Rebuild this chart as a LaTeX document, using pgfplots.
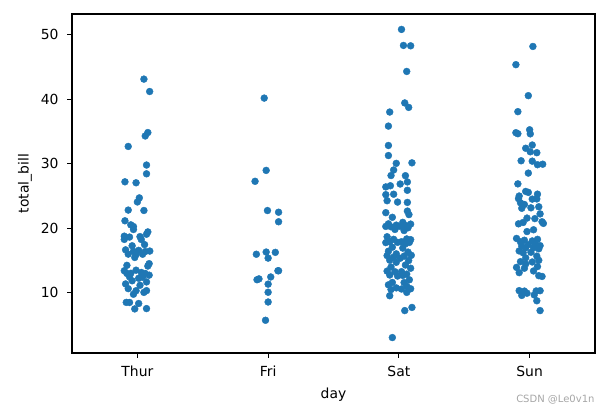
\documentclass[border=0pt]{standalone}
\usepackage{fontspec}
\setmainfont{DejaVu Sans}
\usepackage{pgfplots}
\pgfplotsset{compat=1.18}
\usepackage{pgfplotstable}
\definecolor{tabblue}{HTML}{1F77B4}

% columns: j = jitter offset from the category, bill = total_bill
\pgfplotstableread{
j bill
0.05 43.11
0.094 41.19
0.08 34.83
0.06 34.30
-0.07 32.68
0.07 29.80
0.07 28.44
-0.095 27.20
-0.01 27.05
0.015 24.71
0.0 24.08
-0.07 22.82
0.05 22.76
-0.095 21.16
-0.05 20.53
-0.03 20.27
-0.03 19.81
0.08 19.44
0.07 19.08
-0.10 18.78
0.02 18.71
-0.06 18.64
-0.10 18.28
0.03 18.26
0.055 17.47
-0.04 17.29
-0.09 16.66
0.01 16.58
0.095 16.47
-0.03 16.43
0.06 16.40
-0.07 16.00
0.04 15.98
-0.01 15.95
-0.02 15.48
0.09 14.52
-0.08 14.26
0.08 14.15
-0.01 13.51
-0.10 13.42
0.03 13.16
-0.05 13.03
0.06 13.00
-0.08 13.00
0.09 12.74
-0.06 12.48
0.04 12.43
0.01 12.26
-0.04 11.87
0.07 11.69
-0.09 11.38
0.02 11.17
-0.07 10.65
0.07 10.34
-0.01 10.33
0.05 10.07
-0.03 9.78
-0.085 8.52
-0.06 8.51
0.01 8.35
0.07 7.56
-0.02 7.51
}\thur

\pgfplotstableread{
j bill
-0.03 40.17
-0.015 28.97
-0.10 27.28
-0.005 22.75
0.08 22.49
0.08 21.01
-0.015 16.32
0.055 16.27
-0.09 15.98
0.0 15.38
0.08 13.42
0.075 13.42
0.02 12.46
-0.07 12.16
-0.085 12.03
0.0 11.35
0.0 10.09
0.0 8.58
-0.02 5.75
}\fri

\pgfplotstableread{
j bill
0.02 50.81
0.035 48.33
0.09 48.27
0.06 44.30
0.045 39.42
0.075 38.73
-0.07 38.01
-0.08 35.83
-0.08 32.83
-0.08 31.27
0.10 30.14
-0.02 30.06
-0.04 29.03
-0.06 28.17
0.05 28.15
0.065 27.18
0.01 26.86
-0.065 26.59
-0.10 26.41
0.065 25.89
-0.04 25.28
-0.10 25.21
-0.09 24.27
-0.01 24.06
0.065 24.01
0.065 22.67
-0.10 22.42
0.077 22.12
-0.05 21.70
0.03 20.92
-0.08 20.69
0.09 20.65
-0.02 20.49
0.05 20.45
-0.10 20.29
0.01 20.29
-0.06 20.23
0.07 20.08
-0.03 19.82
0.04 19.65
-0.09 18.69
0.06 18.35
-0.04 18.29
0.09 18.24
-0.07 17.92
0.02 17.92
-0.01 17.82
0.08 17.81
-0.10 17.78
0.05 17.59
-0.05 17.07
0.03 16.93
-0.08 16.45
0.07 16.31
-0.02 16.04
0.095 15.81
-0.09 15.77
0.04 15.69
-0.04 15.53
0.01 15.36
-0.07 15.06
0.075 15.01
-0.02 14.73
0.05 14.31
-0.06 14.00
0.09 13.81
-0.09 13.37
0.02 13.28
-0.03 13.27
0.06 12.90
-0.07 12.76
0.03 12.69
-0.01 12.60
0.08 12.02
-0.05 11.61
0.04 11.59
-0.08 11.24
0.06 11.02
-0.02 10.77
0.09 10.63
0.02 10.59
-0.06 10.51
0.06 10.07
-0.07 9.55
0.10 7.74
0.045 7.25
-0.05 3.07
}\sat

\pgfplotstableread{
j bill
0.025 48.17
-0.105 45.35
-0.01 40.55
-0.09 38.07
0.0 35.26
-0.105 34.81
-0.09 34.65
0.005 34.63
0.02 32.90
-0.03 32.40
0.005 31.85
0.055 31.71
-0.065 30.46
0.02 30.40
0.10 29.93
0.06 29.85
-0.01 28.55
-0.09 26.88
-0.03 25.71
-0.01 25.56
0.06 25.29
-0.08 25.00
-0.085 24.59
0.055 24.55
0.02 24.52
-0.07 23.95
-0.04 23.68
0.07 23.33
0.01 23.17
-0.06 23.10
0.08 22.23
-0.02 21.58
0.04 21.50
0.095 21.01
-0.05 20.90
0.105 20.76
-0.085 20.69
0.03 19.77
-0.02 19.49
-0.10 18.43
0.06 18.29
-0.04 18.15
0.02 18.04
-0.07 17.89
0.045 17.51
-0.01 17.46
0.08 17.31
-0.06 17.26
0.03 16.99
-0.03 16.97
0.07 16.82
-0.08 16.49
0.01 16.29
-0.05 16.21
0.055 15.69
-0.03 15.42
0.07 15.04
-0.07 14.83
0.02 14.78
-0.03 14.48
0.06 14.07
-0.10 13.94
-0.04 13.81
0.03 13.39
-0.08 13.13
0.07 12.66
0.095 12.54
-0.08 10.34
0.08 10.33
0.05 10.29
-0.04 10.27
-0.02 9.94
0.035 9.68
-0.06 9.60
0.055 8.77
0.08 7.25
}\sun

\begin{document}
\begin{tikzpicture}[x=1pt,y=1pt]
\useasboundingbox (0,0) rectangle (613,414);
\begin{axis}[
  at={(72pt,61pt)}, anchor=south west,
  scale only axis, width=523pt, height=339pt,
  xmin=-0.5, xmax=3.5, ymin=0.68, ymax=53.2,
  xtick={0,1,2,3}, xticklabels={Thur,Fri,Sat,Sun},
  ytick={10,20,30,40,50},
  tick align=outside, tick pos=left,
  major tick length=4.9pt,
  every tick/.style={black, line width=1.1pt},
  axis line style={line width=1.1pt, black},
  tick label style={font=\fontsize{13.9}{16}\selectfont},
  xticklabel style={yshift=-5pt},
  yticklabel style={xshift=-5pt},
  label style={font=\fontsize{13.9}{16}\selectfont},
  /pgf/number format/assume math mode=true,
  xlabel={day}, ylabel={total\_bill},
  xlabel style={at={(axis description cs:0.5,-0.124)}, anchor=center},
  ylabel style={at={(axis description cs:-0.09,0.5)}, anchor=center},
  mark size=3.45pt,
]
\addplot[only marks, mark=*, color=tabblue, mark options={draw=none, fill=tabblue}] table[x expr=\thisrow{j}+0, y=bill] {\thur};
\addplot[only marks, mark=*, color=tabblue, mark options={draw=none, fill=tabblue}] table[x expr=\thisrow{j}+1, y=bill] {\fri};
\addplot[only marks, mark=*, color=tabblue, mark options={draw=none, fill=tabblue}] table[x expr=\thisrow{j}+2, y=bill] {\sat};
\addplot[only marks, mark=*, color=tabblue, mark options={draw=none, fill=tabblue}] table[x expr=\thisrow{j}+3, y=bill] {\sun};
\end{axis}
\node[font=\fontsize{10}{12}\selectfont, text=gray!70, anchor=east] at (598,14) {CSDN @Le0v1n};
\end{tikzpicture}
\end{document}
